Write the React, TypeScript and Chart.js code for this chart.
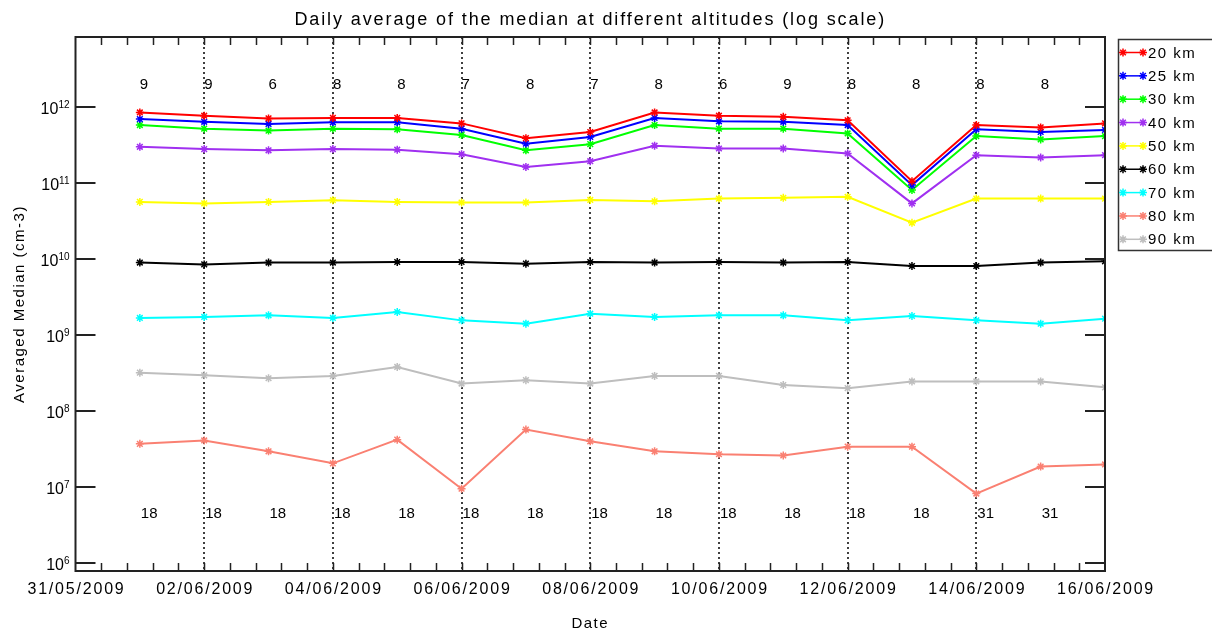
import React, { useEffect, useRef } from 'react';
import { Chart, registerables } from 'chart.js';

Chart.register(...registerables);

// ---------- data ----------
const dates = [
  '01/06/2009', '02/06/2009', '03/06/2009', '04/06/2009', '05/06/2009', '06/06/2009',
  '07/06/2009', '08/06/2009', '09/06/2009', '10/06/2009', '11/06/2009', '12/06/2009',
  '13/06/2009', '14/06/2009', '15/06/2009', '16/06/2009',
];
const xTickLabels = [
  '31/05/2009', '02/06/2009', '04/06/2009', '06/06/2009', '08/06/2009',
  '10/06/2009', '12/06/2009', '14/06/2009', '16/06/2009',
];
const seriesNames = ['20 km', '25 km', '30 km', '40 km', '50 km', '60 km', '70 km', '80 km', '90 km'];
const seriesColors = ['#ff0000', '#0000ff', '#00ff00', '#a030f0', '#ffff00', '#000000', '#00ffff', '#fa8072', '#bebebe'];

const km20 = [8.5e11, 7.7e11, 7.1e11, 7.2e11, 7.2e11, 6.1e11, 3.9e11, 4.7e11, 8.5e11, 7.7e11, 7.45e11, 6.7e11, 1.06e11, 5.8e11, 5.4e11, 6.1e11];
const km25 = [6.95e11, 6.4e11, 6.0e11, 6.3e11, 6.3e11, 5.2e11, 3.3e11, 4.05e11, 7.2e11, 6.5e11, 6.4e11, 5.8e11, 9.4e10, 5.1e11, 4.7e11, 5.0e11];
const km30 = [5.8e11, 5.2e11, 4.9e11, 5.2e11, 5.1e11, 4.3e11, 2.7e11, 3.25e11, 5.8e11, 5.2e11, 5.2e11, 4.5e11, 8.1e10, 4.15e11, 3.75e11, 4.15e11];
const km40 = [3.0e11, 2.8e11, 2.7e11, 2.8e11, 2.75e11, 2.4e11, 1.63e11, 1.94e11, 3.1e11, 2.85e11, 2.85e11, 2.45e11, 5.4e10, 2.33e11, 2.17e11, 2.33e11];
const km50 = [5.65e10, 5.4e10, 5.65e10, 5.95e10, 5.65e10, 5.55e10, 5.55e10, 6.0e10, 5.75e10, 6.25e10, 6.4e10, 6.6e10, 3.0e10, 6.25e10, 6.25e10, 6.25e10];
const km60 = [9.0e9, 8.5e9, 9.0e9, 9.0e9, 9.15e9, 9.15e9, 8.7e9, 9.15e9, 9.0e9, 9.15e9, 9.0e9, 9.15e9, 8.1e9, 8.1e9, 9.0e9, 9.35e9];
const km70 = [1.68e9, 1.73e9, 1.82e9, 1.68e9, 2.01e9, 1.56e9, 1.41e9, 1.91e9, 1.73e9, 1.82e9, 1.82e9, 1.56e9, 1.78e9, 1.56e9, 1.41e9, 1.64e9];
const km80 = [3.7e7, 4.1e7, 2.95e7, 2.05e7, 4.2e7, 9.5e6, 5.7e7, 4.0e7, 2.95e7, 2.7e7, 2.6e7, 3.4e7, 3.4e7, 8.2e6, 1.86e7, 1.98e7];
const km90 = [3.2e8, 2.95e8, 2.7e8, 2.9e8, 3.8e8, 2.3e8, 2.55e8, 2.3e8, 2.9e8, 2.9e8, 2.2e8, 2.0e8, 2.45e8, 2.45e8, 2.45e8, 2.05e8];
const seriesValues = [km20, km25, km30, km40, km50, km60, km70, km80, km90];

const topCounts = [9, 9, 6, 8, 8, 7, 8, 7, 8, 6, 9, 8, 8, 8, 8];
const bottomCounts = [18, 18, 18, 18, 18, 18, 18, 18, 18, 18, 18, 18, 18, 31, 31];
const yTickExponents = [6, 7, 8, 9, 10, 11, 12];

const titleText = 'Daily average of the median at different altitudes (log scale)';
const yTitle = 'Averaged Median (cm-3)';
const xTitle = 'Date';

const Y_MIN = 7.85e5;
const Y_MAX = 8.36e12;
const TOP_COUNT_LEVEL = 1.95e12;
const BOTTOM_COUNT_LEVEL = 4.5e6;

function dayNumber(s: string): number {
  const [d, m, y] = s.split('/').map(Number);
  return (Date.UTC(y, m - 1, d) - Date.UTC(2009, 4, 31)) / 86400000;
}

const FONT = '"Liberation Sans", Arial, sans-serif';

function drawStar(ctx: CanvasRenderingContext2D, x: number, y: number, r: number) {
  ctx.beginPath();
  ctx.moveTo(x - r, y); ctx.lineTo(x + r, y);
  ctx.moveTo(x, y - r); ctx.lineTo(x, y + r);
  const d = r * Math.SQRT1_2;
  ctx.moveTo(x - d, y - d); ctx.lineTo(x + d, y + d);
  ctx.moveTo(x - d, y + d); ctx.lineTo(x + d, y - d);
  ctx.stroke();
}

const idlPlugin = {
  id: 'idlDecor',
  beforeDatasetsDraw(chart: any) {
    const { ctx, chartArea: a, scales } = chart;
    const x = scales.x;
    ctx.save();
    ctx.strokeStyle = '#000';
    ctx.lineWidth = 1.5;
    ctx.setLineDash([2, 3]);
    for (const lbl of xTickLabels.slice(1, -1)) {
      const px = Math.round(x.getPixelForValue(dayNumber(lbl)));
      ctx.beginPath();
      ctx.moveTo(px, a.top);
      ctx.lineTo(px, a.bottom);
      ctx.stroke();
    }
    ctx.restore();
  },
  afterDatasetsDraw(chart: any) {
    const { ctx, chartArea: a, scales } = chart;
    const x = scales.x;
    const y = scales.y;
    ctx.save();
    ctx.setLineDash([]);
    ctx.strokeStyle = '#222';
    ctx.fillStyle = '#000';
    ctx.lineWidth = 2;
    // frame
    ctx.strokeRect(a.left, a.top, a.right - a.left, a.bottom - a.top);

    // x minor ticks (every 0.4 day), top and bottom
    const x0 = dayNumber(xTickLabels[0]);
    const x1 = dayNumber(xTickLabels[xTickLabels.length - 1]);
    ctx.lineWidth = 1.5;
    for (let v = x0 + 0.4; v < x1 - 0.01; v += 0.4) {
      const px = Math.round(x.getPixelForValue(v)) + 0.5;
      ctx.beginPath();
      ctx.moveTo(px, a.bottom); ctx.lineTo(px, a.bottom - 8);
      ctx.moveTo(px, a.top); ctx.lineTo(px, a.top + 8);
      ctx.stroke();
    }
    // y major ticks, left and right
    ctx.lineWidth = 2;
    for (const e of yTickExponents) {
      const py = Math.round(y.getPixelForValue(Math.pow(10, e)));
      ctx.beginPath();
      ctx.moveTo(a.left, py); ctx.lineTo(a.left + 20, py);
      ctx.moveTo(a.right, py); ctx.lineTo(a.right - 20, py);
      ctx.stroke();
    }

    // y tick labels 10^n
    for (const e of yTickExponents) {
      const py = y.getPixelForValue(Math.pow(10, e));
      ctx.font = `16px ${FONT}`;
      (ctx as any).letterSpacing = '0px';
      const baseW = ctx.measureText('10').width;
      ctx.font = `10px ${FONT}`;
      const expW = ctx.measureText(String(e)).width;
      const right = a.left - 6;
      const startX = right - expW - baseW;
      ctx.textAlign = 'left';
      ctx.textBaseline = 'alphabetic';
      ctx.font = `16px ${FONT}`;
      ctx.fillText('10', startX, py + 7);
      ctx.font = `10px ${FONT}`;
      ctx.fillText(String(e), startX + baseW, py + 1);
    }

    // x tick labels
    ctx.font = `16px ${FONT}`;
    (ctx as any).letterSpacing = '1.8px';
    ctx.textAlign = 'center';
    ctx.textBaseline = 'middle';
    for (const lbl of xTickLabels) {
      const px = x.getPixelForValue(dayNumber(lbl));
      ctx.fillText(lbl, px + 1, a.bottom + 19);
    }

    // counts
    ctx.font = `15px ${FONT}`;
    (ctx as any).letterSpacing = '0px';
    ctx.textAlign = 'left';
    const ty = y.getPixelForValue(TOP_COUNT_LEVEL);
    const by = y.getPixelForValue(BOTTOM_COUNT_LEVEL);
    topCounts.forEach((c, i) => {
      ctx.fillText(String(c), x.getPixelForValue(dayNumber(dates[i])), ty);
    });
    bottomCounts.forEach((c, i) => {
      ctx.fillText(String(c), x.getPixelForValue(dayNumber(dates[i])) + 1, by);
    });

    // title
    ctx.textAlign = 'center';
    ctx.font = `18px ${FONT}`;
    (ctx as any).letterSpacing = '1.9px';
    ctx.fillText(titleText, (a.left + a.right) / 2, 20);

    // x title
    ctx.font = `15px ${FONT}`;
    (ctx as any).letterSpacing = '1.5px';
    ctx.fillText(xTitle, (a.left + a.right) / 2, 624);

    // y title
    ctx.save();
    ctx.translate(20, (a.top + a.bottom) / 2);
    ctx.rotate(-Math.PI / 2);
    ctx.fillText(yTitle, 0, 0);
    ctx.restore();

    // legend
    const lx = 1118.5, ly = 39.5, lw = 100, lh = 211;
    ctx.strokeStyle = '#333';
    ctx.lineWidth = 1.5;
    ctx.strokeRect(lx, ly, lw, lh);
    ctx.font = `15px ${FONT}`;
    (ctx as any).letterSpacing = '1.5px';
    ctx.textAlign = 'left';
    ctx.textBaseline = 'middle';
    seriesNames.forEach((name, i) => {
      const ry = 52.5 + i * 23.35;
      ctx.strokeStyle = seriesColors[i];
      ctx.lineWidth = 1.5;
      ctx.beginPath();
      ctx.moveTo(1120, ry); ctx.lineTo(1144, ry);
      ctx.stroke();
      drawStar(ctx, 1123, ry, 4);
      drawStar(ctx, 1143, ry, 4);
      ctx.fillStyle = '#000';
      ctx.fillText(name, 1148, ry + 1);
    });
    ctx.restore();
  },
};

export default function App() {
  const canvasRef = useRef<HTMLCanvasElement | null>(null);

  useEffect(() => {
    const canvas = canvasRef.current;
    if (!canvas) return;
    const xs = dates.map(dayNumber);
    const chart = new Chart(canvas, {
      type: 'line',
      data: {
        datasets: seriesNames.map((name, i) => ({
          label: name,
          data: seriesValues[i].map((v, j) => ({ x: xs[j], y: v })),
          borderColor: seriesColors[i],
          backgroundColor: seriesColors[i],
          borderWidth: 2,
          pointStyle: 'star',
          pointRadius: 4,
          pointBorderWidth: 1.5,
          pointBorderColor: seriesColors[i],
          tension: 0,
          fill: false,
        })),
      },
      options: {
        responsive: false,
        animation: false,
        events: [],
        layout: { padding: { left: 75.5, right: 107, top: 37, bottom: 61 } },
        plugins: {
          legend: { display: false },
          title: { display: false },
          tooltip: { enabled: false },
        },
        scales: {
          x: {
            type: 'linear',
            display: false,
            min: dayNumber(xTickLabels[0]),
            max: dayNumber(xTickLabels[xTickLabels.length - 1]),
          },
          y: {
            type: 'logarithmic',
            display: false,
            min: Y_MIN,
            max: Y_MAX,
          },
        },
      },
      plugins: [idlPlugin],
    } as any);
    return () => chart.destroy();
  }, []);

  return (
    <div style={{ position: 'absolute', left: 0, top: 0, width: 1212, height: 632, background: '#fff' }}>
      <canvas ref={canvasRef} width={1212} height={632} style={{ display: 'block', width: 1212, height: 632 }} />
    </div>
  );
}
